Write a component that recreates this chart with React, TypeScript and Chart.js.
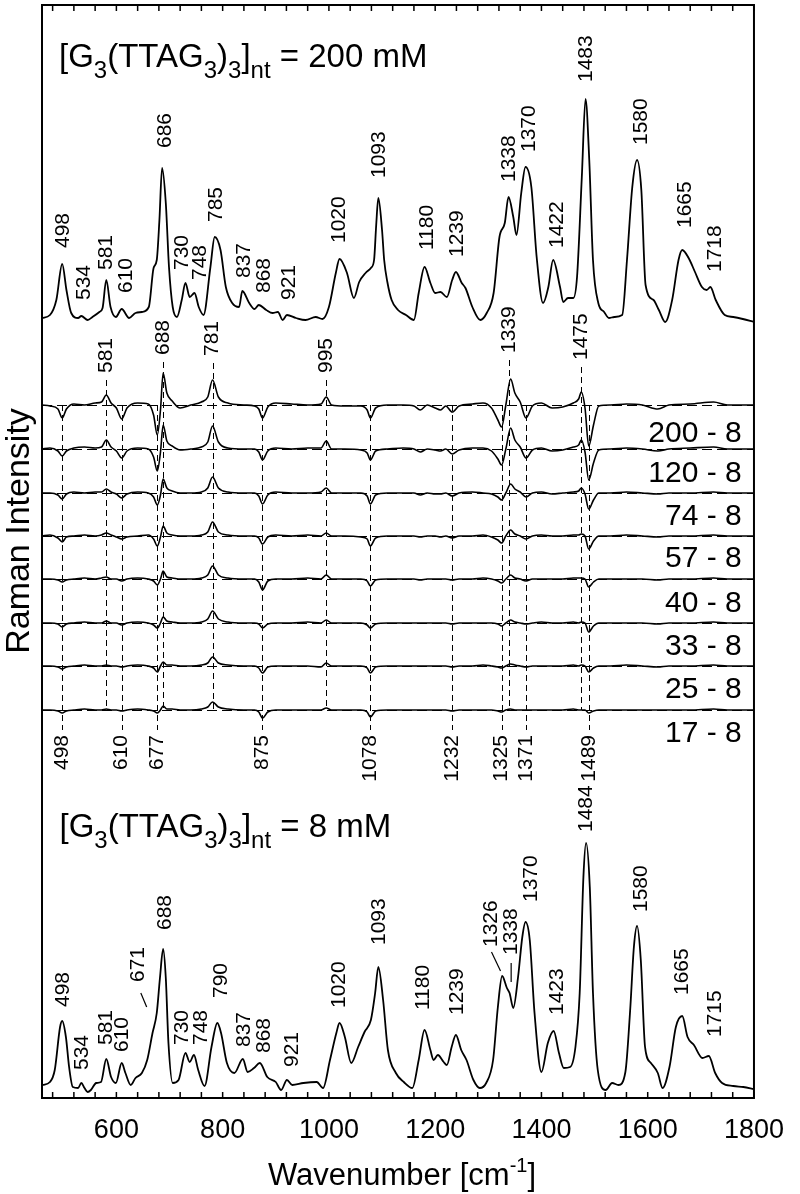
import React, { useEffect, useRef } from 'react';
import { Chart, registerables } from 'chart.js';

Chart.register(...registerables);

const FONT = "'Liberation Sans', Arial, Helvetica, sans-serif";

// ---- axis ----
const X_MIN = 460;
const X_MAX = 1800;
const Y_MAX = 1093;
const X_TICKS = [480, 520, 560, 600, 640, 680, 720, 760, 800, 840, 880, 920, 960, 1000, 1040, 1080, 1120, 1160, 1200, 1240, 1280, 1320, 1360, 1400, 1440, 1480, 1520, 1560, 1600, 1640, 1680, 1720, 1760, 1800];
const X_TICK_LABELS = [600, 800, 1000, 1200, 1400, 1600, 1800];
const X_TITLE = 'Wavenumber [cm';
const X_TITLE_SUP = '-1';
const Y_TITLE = 'Raman Intensity';

// ---- 200 mM spectrum ----
const WN_200 = [460, 475, 487, 498, 506, 515, 528, 534, 546, 555, 568, 574, 581, 589, 599, 610, 624, 636, 648, 661, 670, 676, 681, 686, 693, 699, 706, 714, 723, 730, 738, 747, 755, 764, 777, 785, 796, 806, 818, 831, 837, 850, 860, 868, 882, 894, 904, 913, 921, 938, 956, 975, 988, 1000, 1013, 1020, 1034, 1047, 1057, 1069, 1079, 1085, 1089, 1093, 1100, 1104, 1110, 1118, 1130, 1145, 1160, 1169, 1180, 1191, 1200, 1210, 1222, 1232, 1239, 1250, 1257, 1270, 1285, 1297, 1310, 1321, 1331, 1338, 1347, 1353, 1362, 1370, 1381, 1391, 1403, 1413, 1422, 1435, 1441, 1450, 1460, 1467, 1476, 1483, 1490, 1497, 1507, 1518, 1527, 1537, 1552, 1561, 1571, 1580, 1588, 1596, 1611, 1621, 1633, 1646, 1658, 1665, 1677, 1689, 1702, 1711, 1718, 1728, 1745, 1761, 1779, 1800];
const INT_200 = [12, 15, 30, 66, 40, 17, 12, 14, 10, 13, 18, 22, 50, 23, 13, 21, 12, 17, 18, 23, 62, 70, 110, 162, 127, 63, 23, 13, 30, 47, 33, 37, 23, 15, 63, 93, 80, 43, 27, 23, 39, 27, 21, 25, 20, 17, 18, 10, 15, 12, 10, 13, 11, 23, 57, 71, 57, 32, 48, 57, 62, 70, 105, 132, 100, 70, 48, 30, 20, 15, 10, 37, 63, 47, 37, 38, 33, 50, 58, 47, 42, 23, 10, 17, 37, 93, 107, 133, 113, 95, 137, 163, 143, 73, 27, 43, 70, 43, 28, 32, 32, 53, 153, 231, 170, 70, 27, 18, 12, 13, 15, 70, 143, 170, 140, 45, 30, 20, 8, 30, 70, 80, 72, 58, 43, 40, 43, 30, 15, 13, 11, 8];

// ---- 8 mM spectrum ----
const WN_8 = [461, 475, 484, 494, 498, 505, 511, 518, 528, 534, 540, 546, 552, 562, 571, 581, 590, 599, 610, 617, 627, 636, 648, 658, 668, 676, 682, 688, 693, 698, 706, 717, 730, 738, 746, 754, 766, 779, 790, 797, 808, 822, 838, 847, 859, 870, 884, 900, 910, 921, 931, 952, 977, 989, 1002, 1014, 1020, 1030, 1042, 1055, 1067, 1079, 1087, 1093, 1102, 1111, 1126, 1141, 1157, 1169, 1180, 1191, 1197, 1205, 1216, 1222, 1231, 1239, 1249, 1259, 1272, 1284, 1296, 1309, 1318, 1326, 1335, 1340, 1347, 1356, 1364, 1370, 1378, 1387, 1400, 1412, 1423, 1433, 1442, 1454, 1464, 1472, 1479, 1484, 1491, 1497, 1506, 1521, 1533, 1545, 1558, 1567, 1574, 1580, 1587, 1595, 1606, 1619, 1628, 1641, 1653, 1665, 1675, 1687, 1703, 1715, 1727, 1740, 1761, 1780, 1800];
const INT_8 = [13, 16, 28, 71, 77, 61, 31, 11, 10, 15, 10, 6, 8, 15, 16, 39, 21, 15, 35, 25, 13, 20, 25, 38, 65, 85, 120, 149, 120, 55, 15, 18, 45, 36, 43, 28, 12, 51, 75, 65, 35, 25, 39, 26, 30, 35, 21, 16, 8, 18, 13, 15, 16, 10, 38, 65, 75, 61, 35, 51, 66, 78, 105, 131, 98, 48, 25, 16, 10, 38, 68, 48, 38, 43, 36, 33, 51, 63, 48, 38, 18, 10, 15, 38, 91, 122, 110, 105, 90, 121, 161, 176, 158, 85, 26, 55, 67, 45, 30, 31, 51, 105, 221, 255, 211, 105, 28, 8, 15, 13, 26, 88, 151, 172, 138, 51, 35, 25, 10, 31, 71, 82, 61, 53, 40, 42, 25, 15, 12, 11, 9];

// ---- difference spectra ----
const DIFF_WN = [
  460, 475, 490, 498, 506, 520, 540, 560, 572, 581,
  590, 600, 610, 620, 640, 660, 670, 677, 683, 688,
  695, 705, 720, 740, 760, 772, 781, 792, 810, 840,
  860, 868, 875, 885, 900, 930, 960, 985, 995, 1005,
  1030, 1060, 1072, 1078, 1088, 1110, 1140, 1160, 1172, 1185,
  1200, 1210, 1220, 1232, 1245, 1270, 1290, 1306, 1318, 1325,
  1333, 1342, 1350, 1360, 1371, 1383, 1400, 1420, 1440, 1460,
  1470, 1475, 1482, 1489, 1498, 1508, 1530, 1560, 1590, 1619,
  1640, 1680, 1724, 1750, 1800,
];
const DIFF_NAMES = ['200 - 8', '120 - 8', '74 - 8', '57 - 8', '40 - 8', '33 - 8', '25 - 8', '17 - 8'];
const DIFF_200 = [
  0, -1, -4, -13, -4, 1, 0, 2, 3, 10,
  2, -3, -14, -3, 2, 1, -10, -30, -5, 32,
  12, 4, -3, 0, 3, 8, 25, 8, 2, 0,
  -1, -4, -13, -2, 2, 1, 0, 1, 8, 0,
  -1, -1, -5, -13, -3, 0, 0, -1, -5, 0,
  -3, -5, -1, -7, -1, 1, 2, -3, -15, -22,
  0, 26, 12, 3, -13, -1, 2, -3, -2, 2,
  6, 13, -3, -41, -20, -1, 0, 1, 0, -4,
  0, 1, 3, 0, 0,
];
const DIFF_120 = [
  0, 1, -2, -7, -2, 1, 2, 1, 2, 9,
  2, -2, -9, -2, 1, 0, -8, -22, -3, 24,
  8, 3, -1, 0, 2, 7, 23, 7, 1, 0,
  0, -3, -11, -2, 1, 0, 1, 1, 8, 0,
  0, -1, -4, -11, -2, 0, 1, 0, -3, 0,
  -1, -2, 0, -5, -1, 1, 1, -2, -10, -16,
  0, 21, 9, 2, -9, -1, 1, -2, -1, 2,
  4, 9, -3, -31, -14, -1, 0, 1, 0, -2,
  0, 1, 2, 0, 0,
];
const DIFF_74 = [
  0, 0, -2, -6, -1, 1, 0, 1, 1, 4,
  1, -1, -5, -1, 1, 0, -4, -12, -2, 14,
  5, 2, 0, 0, 1, 5, 16, 5, 1, 0,
  0, -3, -11, -2, 1, 0, 0, 1, 5, 0,
  0, 0, -3, -11, -2, 0, 0, 0, -2, 0,
  -1, -1, 0, -3, 0, 1, 0, -1, -4, -7,
  0, 9, 4, 1, -4, 0, 1, -1, 0, 1,
  2, 5, -1, -16, -7, 0, 0, 1, 0, -1,
  0, 0, 1, 0, 0,
];
const DIFF_57 = [
  0, 1, -2, -6, -1, 0, 1, 0, 1, 3,
  1, -1, -3, -1, 0, 1, -3, -10, -1, 10,
  3, 1, 0, 0, 1, 4, 14, 4, 1, 0,
  0, -2, -8, -1, 1, 0, 1, 0, 3, 0,
  0, -1, -3, -10, -2, 0, 0, 0, -1, 0,
  0, -1, 0, -2, 0, 0, 1, -1, -4, -7,
  0, 6, 2, 0, -3, 0, 1, 0, 0, 1,
  1, 2, 0, -13, -5, 0, 0, 1, 0, -1,
  0, 0, 1, 0, 0,
];
const DIFF_40 = [
  0, 0, -1, -3, -1, 0, 1, 0, 1, 2,
  0, 0, -2, 0, 1, 0, -2, -6, 0, 8,
  2, 1, 0, 0, 1, 4, 13, 4, 1, 0,
  0, -3, -11, -2, 0, 0, 1, 0, 4, 0,
  0, 0, -2, -7, -1, 0, 0, 0, -1, 0,
  0, 0, 0, -1, 0, 0, 1, 0, -2, -4,
  0, 4, 1, 0, -2, 0, 0, 0, 0, 1,
  1, 1, 0, -8, -3, 0, 0, 0, 0, -1,
  0, 0, 1, 0, 0,
];
const DIFF_33 = [
  0, 0, -1, -4, -1, 0, 1, 0, 0, 2,
  0, 0, -2, 0, 1, 0, -2, -5, 0, 6,
  2, 1, 0, 0, 1, 4, 12, 4, 1, 0,
  0, -1, -5, -1, 0, 0, 1, 0, 3, 0,
  0, 0, -2, -5, -1, 0, 0, 0, 0, 0,
  0, 0, 0, -1, 0, 0, 0, 0, -1, -3,
  0, 3, 1, 0, -1, 0, 1, 0, 0, 1,
  0, 1, 0, -9, -3, 0, 0, 0, 0, -1,
  0, 0, 1, 0, 0,
];
const DIFF_25 = [
  0, 0, -1, -3, -1, 0, 1, 0, 0, 1,
  0, 0, -1, 0, 1, 0, -2, -6, 0, 4,
  1, 1, 0, 0, 1, 3, 9, 3, 1, 0,
  0, -2, -7, -1, 0, 0, 0, -1, 3, 0,
  0, 0, -2, -7, -1, 0, 0, 0, 0, 0,
  0, 0, 0, -1, 0, 0, 1, 0, -1, -2,
  0, 2, 1, 0, -1, 0, 0, 0, 0, 1,
  0, 1, 0, -6, -2, 0, 0, 1, 0, -1,
  0, 0, 1, 0, 0,
];
const DIFF_17 = [
  0, 0, -1, -3, -1, 0, 1, 0, 0, 1,
  0, 0, -1, 0, 1, 0, -1, -3, 0, 4,
  1, 1, 0, 0, 1, 3, 8, 3, 1, 0,
  0, -2, -8, -2, 0, 0, 0, 0, 2, 0,
  0, 0, -2, -7, -1, 0, 0, 0, 0, 0,
  0, 0, 0, -1, 0, 0, 0, 0, -1, -2,
  0, 1, 0, 0, 0, 0, 0, 0, 0, 1,
  0, 0, 0, -3, -1, 0, 0, 0, 0, 0,
  0, 0, 1, 0, 0,
];
const DIFF_SERIES = [DIFF_200, DIFF_120, DIFF_74, DIFF_57, DIFF_40, DIFF_33, DIFF_25, DIFF_17];

// ---- stacking offsets (y units) ----
const OFFSET_200 = 768;
const OFFSET_8 = 0;
const DIFF_OFFSETS = [693, 649, 605, 562, 519, 475, 432, 388];

// ---- annotations: [text, x (cm-1), y (axis units)] ----
const LABELS_200: [string, number, number][] = [
  ['498', 499, 850], ['534', 540, 798], ['581', 581, 828], ['610', 618, 805],
  ['686', 691, 950], ['730', 724, 828], ['748', 758, 818], ['785', 787, 876],
  ['837', 841, 820], ['868', 878, 805], ['921', 925, 798], ['1020', 1020, 855],
  ['1093', 1094, 920], ['1180', 1185, 848], ['1239', 1241, 841], ['1338', 1340, 916],
  ['1370', 1377, 946], ['1422', 1429, 850], ['1483', 1485, 1016], ['1580', 1587, 953],
  ['1665', 1671, 870], ['1718', 1727, 826],
];
const LABELS_8: [string, number, number][] = [
  ['498', 499, 91], ['534', 536, 28], ['581', 581, 53], ['610', 611, 46],
  ['671', 642, 116], ['688', 692, 168], ['730', 724, 53], ['748', 759, 53],
  ['790', 797, 100], ['837', 841, 51], ['868', 878, 45], ['921', 931, 31],
  ['1020', 1020, 90], ['1093', 1094, 153], ['1180', 1178, 88], ['1239', 1241, 83],
  ['1326', 1305, 151], ['1338', 1343, 143], ['1370', 1381, 196], ['1423', 1429, 83],
  ['1484', 1485, 266], ['1580', 1587, 186], ['1665', 1665, 103], ['1715', 1727, 61],
];
const LEADERS_8: [number, number, number, number][] = [
  [646, 105, 657, 91],
  [1306, 146, 1323, 127],
  [1343, 135, 1343, 116],
];
const DIFF_UP_LABELS: [string, number, number][] = [
  ['581', 581, 725], ['688', 688, 743], ['781', 781, 742],
  ['995', 995, 725], ['1339', 1339, 745], ['1475', 1475, 738],
];
const DIFF_DOWN_LABELS: [string, number][] = [
  ['498', 498], ['610', 610], ['677', 677], ['875', 875], ['1078', 1078],
  ['1232', 1232], ['1325', 1325], ['1371', 1371], ['1489', 1489],
];
const DIFF_DOWN_LABEL_TOP = 363;
const DIFF_NAME_X = 1777;
const DIFF_NAME_Y = [656, 616, 573, 531, 486, 443, 400, 356];
const TITLE_TAILS = [' = 200 mM', ' = 8 mM'];
const TITLE_POS: [number, number][] = [[492, 1031], [493, 261]];

function rotText(ctx: CanvasRenderingContext2D, t: string, px: number, py: number, align: CanvasTextAlign, size: number) {
  ctx.save();
  ctx.translate(px, py);
  ctx.rotate(-Math.PI / 2);
  ctx.font = `${size}px ${FONT}`;
  ctx.textAlign = align;
  ctx.textBaseline = 'middle';
  ctx.fillText(t, 0, 0);
  ctx.restore();
}

function drawFormula(ctx: CanvasRenderingContext2D, x: number, yb: number, tail: string) {
  const parts: [string, boolean][] = [
    ['[G', false], ['3', true], ['(TTAG', false], ['3', true], [')', false],
    ['3', true], [']', false], ['nt', true], [tail, false],
  ];
  let cx = x;
  ctx.textAlign = 'left';
  ctx.textBaseline = 'alphabetic';
  for (const [t, sub] of parts) {
    ctx.font = `${sub ? 24 : 33}px ${FONT}`;
    ctx.fillText(t, cx, sub ? yb + 11 : yb);
    cx += ctx.measureText(t).width;
  }
}

const crisp = (v: number) => Math.round(v) + 0.5;

const decor = {
  id: 'decor',
  beforeDatasetsDraw(chart: any) {
    const { ctx, chartArea: a, scales } = chart;
    const x = scales.x, y = scales.y;
    ctx.save();
    ctx.strokeStyle = '#000';
    ctx.lineWidth = 1;
    ctx.setLineDash([10, 5]);
    for (const o of DIFF_OFFSETS) {
      const py = crisp(y.getPixelForValue(o));
      ctx.beginPath(); ctx.moveTo(a.left, py); ctx.lineTo(a.right, py); ctx.stroke();
    }
    ctx.setLineDash([6, 4]);
    const last = y.getPixelForValue(DIFF_OFFSETS[DIFF_OFFSETS.length - 1]);
    for (const [, w, yb] of DIFF_UP_LABELS) {
      const px = crisp(x.getPixelForValue(w));
      ctx.beginPath(); ctx.moveTo(px, y.getPixelForValue(yb) + 7); ctx.lineTo(px, last); ctx.stroke();
    }
    const first = y.getPixelForValue(DIFF_OFFSETS[0]);
    for (const [, w] of DIFF_DOWN_LABELS) {
      const px = crisp(x.getPixelForValue(w));
      ctx.beginPath(); ctx.moveTo(px, first); ctx.lineTo(px, y.getPixelForValue(DIFF_DOWN_LABEL_TOP) - 5); ctx.stroke();
    }
    ctx.restore();
  },
  afterDraw(chart: any) {
    const { ctx, chartArea: a, scales } = chart;
    const x = scales.x, y = scales.y;
    ctx.save();
    ctx.fillStyle = '#000';
    ctx.strokeStyle = '#000';
    ctx.setLineDash([]);
    // frame
    ctx.lineWidth = 2;
    ctx.strokeRect(a.left, a.top, a.right - a.left, a.bottom - a.top);
    // inward ticks
    ctx.lineWidth = 1.5;
    for (const v of X_TICKS) {
      const px = x.getPixelForValue(v);
      ctx.beginPath();
      ctx.moveTo(px, a.bottom); ctx.lineTo(px, a.bottom - 6);
      ctx.moveTo(px, a.top); ctx.lineTo(px, a.top + 6);
      ctx.stroke();
    }
    // peak labels
    for (const [t, w, v] of LABELS_200) rotText(ctx, t, x.getPixelForValue(w), y.getPixelForValue(v), 'left', 21);
    for (const [t, w, v] of LABELS_8) rotText(ctx, t, x.getPixelForValue(w), y.getPixelForValue(v), 'left', 21);
    ctx.lineWidth = 1.2;
    for (const [w1, v1, w2, v2] of LEADERS_8) {
      ctx.beginPath();
      ctx.moveTo(x.getPixelForValue(w1), y.getPixelForValue(v1));
      ctx.lineTo(x.getPixelForValue(w2), y.getPixelForValue(v2));
      ctx.stroke();
    }
    for (const [t, w, v] of DIFF_UP_LABELS) rotText(ctx, t, x.getPixelForValue(w), y.getPixelForValue(v), 'left', 21);
    for (const [t, w] of DIFF_DOWN_LABELS) rotText(ctx, t, x.getPixelForValue(w), y.getPixelForValue(DIFF_DOWN_LABEL_TOP), 'right', 21);
    // difference names
    ctx.font = `30px ${FONT}`;
    ctx.textAlign = 'right';
    ctx.textBaseline = 'alphabetic';
    DIFF_NAMES.forEach((n, i) => ctx.fillText(n, x.getPixelForValue(DIFF_NAME_X), y.getPixelForValue(DIFF_NAME_Y[i])));
    // titles
    TITLE_TAILS.forEach((tail, i) => drawFormula(ctx, x.getPixelForValue(TITLE_POS[i][0]), y.getPixelForValue(TITLE_POS[i][1]), tail));
    // y title
    rotText(ctx, Y_TITLE, 20, 531, 'center', 34);
    // x title
    ctx.font = `31px ${FONT}`;
    const w1 = ctx.measureText(X_TITLE).width;
    ctx.font = `20px ${FONT}`;
    const w2 = ctx.measureText(X_TITLE_SUP).width;
    ctx.font = `31px ${FONT}`;
    const w3 = ctx.measureText(']').width;
    const cx = (a.left + a.right) / 2 + 4;
    let sx = cx - (w1 + w2 + w3) / 2;
    const by = a.bottom + 87;
    ctx.textAlign = 'left';
    ctx.fillText(X_TITLE, sx, by);
    sx += w1;
    ctx.font = `20px ${FONT}`;
    ctx.fillText(X_TITLE_SUP, sx, by - 13);
    sx += w2;
    ctx.font = `31px ${FONT}`;
    ctx.fillText(']', sx, by);
    ctx.restore();
  },
};

export default function App() {
  const ref = useRef<HTMLCanvasElement>(null);
  useEffect(() => {
    const canvas = ref.current;
    if (!canvas) return;
    const lineStyle = {
      borderColor: '#000',
      borderWidth: 1.8,
      pointRadius: 0,
      fill: false,
      cubicInterpolationMode: 'monotone' as const,
    };
    const datasets: any[] = [];
    datasets.push({ ...lineStyle, label: '200 mM', data: WN_200.map((w, i) => ({ x: w, y: INT_200[i] + OFFSET_200 })) });
    DIFF_SERIES.forEach((s, k) => {
      datasets.push({ ...lineStyle, borderWidth: 1.6, label: DIFF_NAMES[k], data: DIFF_WN.map((w, i) => ({ x: w, y: (s[i] ?? 0) + DIFF_OFFSETS[k] })) });
    });
    datasets.push({ ...lineStyle, label: '8 mM', data: WN_8.map((w, i) => ({ x: w, y: INT_8[i] + OFFSET_8 })) });

    const chart = new Chart(canvas, {
      type: 'line',
      data: { datasets },
      options: {
        animation: false,
        responsive: false,
        events: [],
        layout: { padding: { left: 42, right: 37, top: 5, bottom: 0 } },
        plugins: { legend: { display: false }, tooltip: { enabled: false }, title: { display: false } },
        scales: {
          x: {
            type: 'linear',
            min: X_MIN,
            max: X_MAX,
            afterBuildTicks: (s: any) => { s.ticks = X_TICKS.map((v) => ({ value: v })); },
            afterFit: (s: any) => { s.height = 96; },
            grid: { display: false, drawTicks: false },
            border: { display: false },
            ticks: {
              autoSkip: false,
              maxRotation: 0,
              minRotation: 0,
              padding: 16,
              color: '#000',
              font: { family: FONT, size: 27 },
              callback: (v: any) => (X_TICK_LABELS.includes(Number(v)) ? String(v) : ''),
            },
          },
          y: { type: 'linear', display: false, min: 0, max: Y_MAX },
        },
      } as any,
      plugins: [decor],
    });
    return () => chart.destroy();
  }, []);
  return (
    <div style={{ position: 'absolute', left: 0, top: 0, width: 800, height: 1194, background: '#fff' }}>
      <canvas ref={ref} width={800} height={1194} style={{ display: 'block' }} />
    </div>
  );
}
